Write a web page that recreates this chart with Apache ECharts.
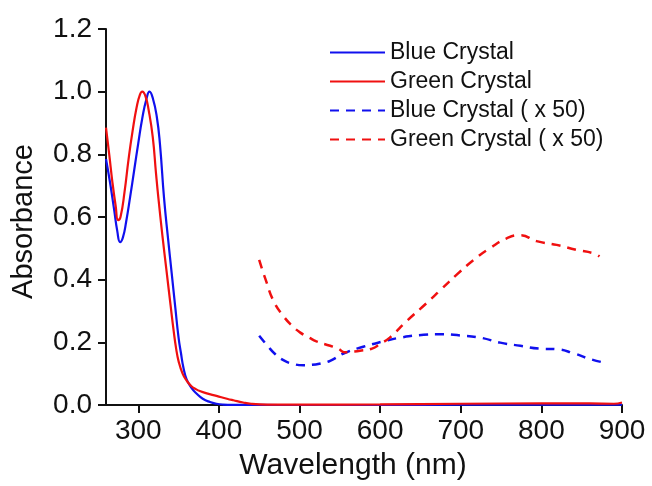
<!DOCTYPE html>
<html>
<head>
<meta charset="utf-8">
<script src="https://cdn.jsdelivr.net/npm/echarts@6/dist/echarts.min.js"></script>
<style>
html,body{margin:0;padding:0;background:#fff;}
#chart{width:652px;height:486px;}
</style>
</head>
<body>
<div id="chart"></div>
<script>
// Blue crystal, solid
var blueX = [260,265,270,274,277.5,281,285,290,295,300,305,310,314,318,323,327,332,337,341.5,346,350,353,356,360,366,372.5,380,389,397,405,420,450,500,600,700,800,900];
var blueY = [0.785,0.71,0.625,0.555,0.52,0.535,0.585,0.665,0.75,0.835,0.915,0.975,1.0,0.98,0.92,0.83,0.66,0.53,0.42,0.31,0.215,0.165,0.12,0.082,0.055,0.036,0.02,0.0095,0.004,0.0015,0.0005,0.0002,0,0,0.001,0.001,0.001];
// Green crystal, solid
var greenX = [260,264,268,272,275,278,283,288,293,298,302,305,309,313,318,322,325,330,335,340,344,347,350,355,360,366,372,377,385,397,410,418,430,440,460,500,600,700,800,860,890,900];
var greenY = [0.885,0.80,0.71,0.635,0.59,0.60,0.68,0.785,0.875,0.95,0.99,1.0,0.985,0.94,0.855,0.74,0.66,0.54,0.43,0.32,0.235,0.18,0.14,0.10,0.078,0.06,0.05,0.044,0.037,0.029,0.02,0.015,0.008,0.004,0.0015,0.001,0.002,0.004,0.005,0.005,0.004,0.008];
// Blue crystal x50, dashed
var blue50X = [450,460,470,480,492,505,515,527,538,556,579,604,625,654,675,699,724,749,774,798,819,840,860,880];
var blue50Y = [0.221,0.19,0.162,0.143,0.131,0.127,0.128,0.133,0.141,0.166,0.186,0.203,0.215,0.224,0.226,0.222,0.215,0.199,0.189,0.18,0.178,0.165,0.147,0.134];
// Green crystal x50, dashed
var green50X = [450,458,468,480,490,501,512,521,538,548,556,565,575,590,600,612,633,658,676,695,716,736,757,774,794,819,844,865,872];
var green50Y = [0.463,0.40,0.331,0.284,0.255,0.231,0.215,0.203,0.189,0.18,0.168,0.17,0.173,0.18,0.195,0.215,0.268,0.326,0.37,0.416,0.463,0.5,0.532,0.542,0.523,0.511,0.495,0.484,0.474];

var seriesNames = ['Blue Crystal','Green Crystal','Blue Crystal ( x 50)','Green Crystal ( x 50)'];
var xTicks = [300,400,500,600,700,800,900];
var yTicks = [0,0.2,0.4,0.6,0.8,1.0,1.2];

function pairs(xs, ys){ return xs.map(function(x,i){ return [x, ys[i]]; }); }

var FONT = '"Liberation Sans", Arial, Helvetica, sans-serif';
var chart = echarts.init(document.getElementById('chart'), null, {renderer:'canvas'});
chart.setOption({
  animation:false,
  backgroundColor:'#ffffff',
  textStyle:{fontFamily:FONT},
  grid:{left:106,right:30,top:29,bottom:78,containLabel:false},
  legend:{
    orient:'vertical', left:329, top:41, padding:0,
    itemWidth:55, itemHeight:14, itemGap:6,
    data:seriesNames,
    itemStyle:{opacity:0},
    textStyle:{fontSize:23, color:'#111', fontFamily:FONT, lineHeight:23}
  },
  xAxis:{
    type:'value', min:260, max:900,
    name:'Wavelength (nm)', nameLocation:'middle', nameGap:46,
    nameTextStyle:{fontSize:30, color:'#111', fontFamily:FONT, padding:[0,22,0,0]},
    axisLine:{show:true, onZero:false, lineStyle:{color:'#111', width:2}},
    axisTick:{show:true, length:8, lineStyle:{color:'#111', width:2}, customValues:xTicks},
    axisLabel:{fontSize:28, color:'#111', margin:12, fontFamily:FONT, customValues:xTicks},
    splitLine:{show:false}
  },
  yAxis:{
    type:'value', min:0, max:1.2, interval:0.2,
    name:'Absorbance', nameLocation:'middle', nameGap:68,
    nameTextStyle:{fontSize:29, color:'#111', fontFamily:FONT, padding:[0,9,0,0]},
    axisLine:{show:true, lineStyle:{color:'#111', width:2}},
    axisTick:{show:true, length:8, lineStyle:{color:'#111', width:2}},
    axisLabel:{fontSize:28, color:'#111', margin:14, fontFamily:FONT,
      formatter:function(v){ return v.toFixed(1); }},
    splitLine:{show:false}
  },
  series:[
    {name:seriesNames[0], type:'line', data:pairs(blueX,blueY), symbol:'none', showSymbol:false,
     smooth:0.5, lineStyle:{color:'#1010ee', width:2.2}, itemStyle:{color:'#1010ee'}},
    {name:seriesNames[1], type:'line', data:pairs(greenX,greenY), symbol:'none', showSymbol:false,
     smooth:0.5, lineStyle:{color:'#f01010', width:2.2}, itemStyle:{color:'#f01010'}},
    {name:seriesNames[2], type:'line', data:pairs(blue50X,blue50Y), symbol:'none', showSymbol:false,
     smooth:0.5, lineStyle:{color:'#1010ee', width:2.5, type:[9,7]}, itemStyle:{color:'#1010ee'}},
    {name:seriesNames[3], type:'line', data:pairs(green50X,green50Y), symbol:'none', showSymbol:false,
     smooth:0.5, lineStyle:{color:'#f01010', width:2.5, type:[9,7]}, itemStyle:{color:'#f01010'}}
  ]
});
</script>
</body>
</html>
